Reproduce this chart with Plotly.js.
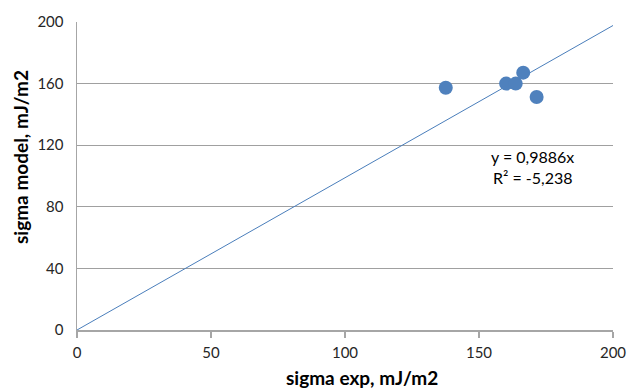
<!DOCTYPE html>
<html><head><meta charset="utf-8">
<script src="https://cdn.plot.ly/plotly-3.0.1.min.js"></script>
<style>body{margin:0;padding:0;background:#fff}#chart{width:630px;height:388px}</style>
</head><body><div id="chart"></div>
<script>
const sigmaExp = [137.6, 160.1, 163.7, 166.5, 171.5];
const sigmaModel = [157.3, 160.0, 160.0, 167.1, 151.3];
const slope = 0.9886;
const trendX = [0, 200];
const eqText = "y = 0,9886x";
const r2Text = "R² = -5,238";
const xTitle = "sigma exp, mJ/m2";
const yTitle = "sigma model, mJ/m2";
const xTicks = [0, 50, 100, 150, 200];
const yTicks = [0, 40, 80, 120, 160, 200];

const font = "Lato, 'Open Sans', sans-serif";
const data = [
  {x: trendX, y: trendX.map(v => v * slope), mode: 'lines', type: 'scatter',
   line: {color: '#4a7ebb', width: 1}, hoverinfo: 'skip'},
  {x: sigmaExp, y: sigmaModel, mode: 'markers', type: 'scatter',
   marker: {color: '#4f81bd', size: 14}}
];
const W = 630, H = 388;
// plot-area pixel extents (margins)
const L = 77, R = 613, T = 22, B = 330;
const pxToPaperX = p => (p - L) / (R - L);
const pxToPaperY = p => (B - p) / (B - T);
const titleFont = {family: font, size: 19, color: '#000', weight: 'bold'};
const eqFont = {family: font, size: 16, color: '#000'};
const layout = {
  width: W, height: H, showlegend: false,
  margin: {l: L, r: W - R, t: T, b: H - B},
  paper_bgcolor: '#fff', plot_bgcolor: '#fff',
  font: {family: font, size: 15, color: '#404040'},
  xaxis: {range: [0, 200], tickvals: xTicks, showgrid: false, zeroline: false,
    showline: true, linecolor: '#a6a6a6', linewidth: 1.5,
    ticks: 'outside', ticklen: 6, tickcolor: '#a6a6a6', tickwidth: 1.5,
    ticklabelstandoff: 2,
    tickfont: {family: font, size: 15, color: '#262626'}},
  yaxis: {range: [0, 200], tickvals: yTicks, showgrid: true, gridcolor: '#a0a0a0', gridwidth: 1,
    zeroline: false, showline: true, linecolor: '#a6a6a6', linewidth: 1.5, ticks: '',
    ticklabelstandoff: 9,
    tickfont: {family: font, size: 15, color: '#262626'}},
  annotations: [
    {x: pxToPaperX(532.5), y: pxToPaperY(156), xref: 'paper', yref: 'paper', text: eqText, showarrow: false,
     xanchor: 'center', yanchor: 'middle', font: eqFont},
    {x: pxToPaperX(532.5), y: pxToPaperY(177.7), xref: 'paper', yref: 'paper', text: r2Text, showarrow: false,
     xanchor: 'center', yanchor: 'middle', font: eqFont},
    {x: pxToPaperX(362), y: pxToPaperY(377), xref: 'paper', yref: 'paper', text: xTitle, showarrow: false,
     xanchor: 'center', yanchor: 'middle', font: titleFont},
    {x: pxToPaperX(20), y: pxToPaperY(157), xref: 'paper', yref: 'paper', text: yTitle, showarrow: false,
     textangle: -90, xanchor: 'center', yanchor: 'middle', font: titleFont}
  ]
};
Plotly.newPlot('chart', data, layout, {staticPlot: true});
</script></body></html>
